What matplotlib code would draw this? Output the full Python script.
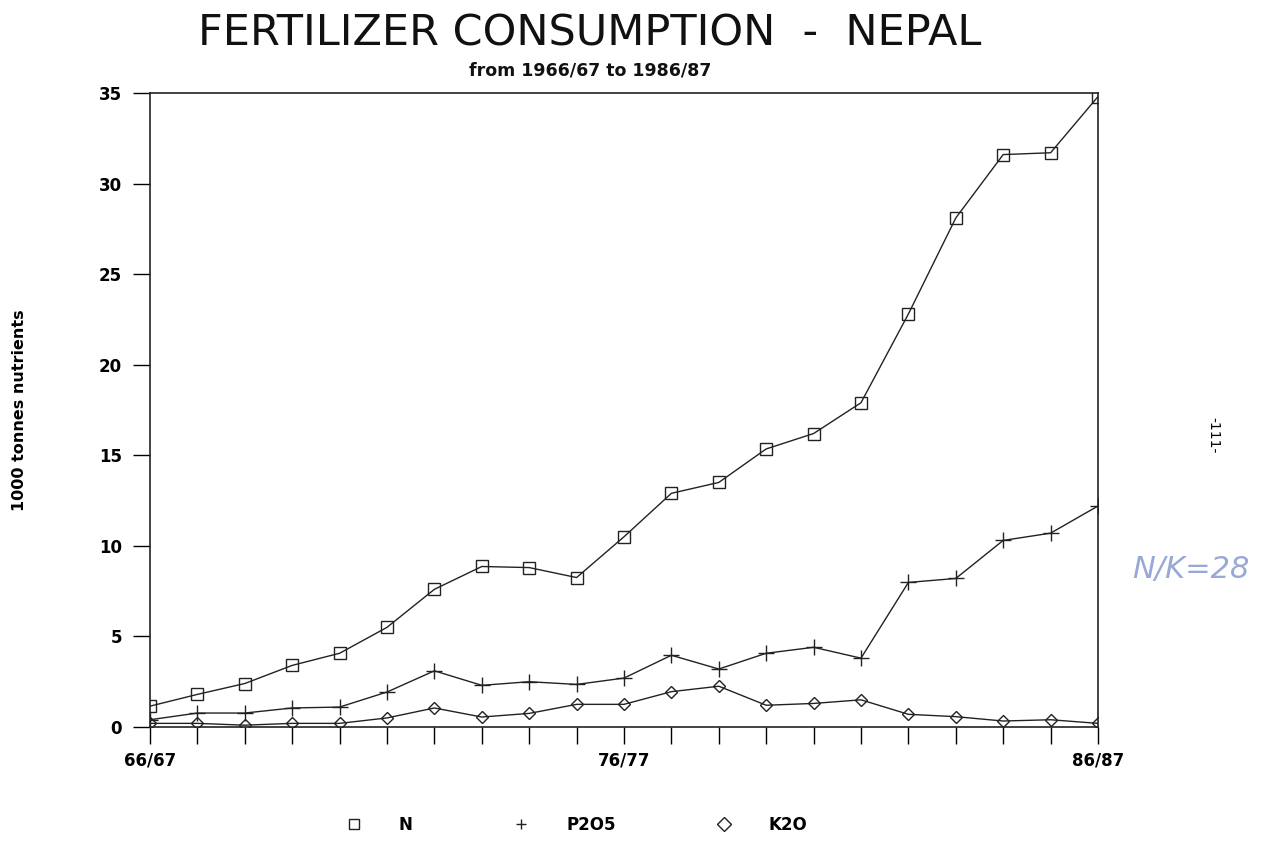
import matplotlib.pyplot as plt
import numpy as np

# === DATA (1000 tonnes nutrients), 1966/67 .. 1986/87 ===
years = ["66/67", "67/68", "68/69", "69/70", "70/71", "71/72", "72/73", "73/74",
         "74/75", "75/76", "76/77", "77/78", "78/79", "79/80", "80/81", "81/82",
         "82/83", "83/84", "84/85", "85/86", "86/87"]
n_vals = [1.15, 1.8, 2.4, 3.4, 4.07, 5.5, 7.6, 8.86, 8.8, 8.25, 10.5,
          12.9, 13.5, 15.35, 16.2, 17.9, 22.8, 28.1, 31.6, 31.7, 34.8]
p2o5_vals = [0.4, 0.77, 0.77, 1.05, 1.1, 1.93, 3.1, 2.3, 2.5, 2.35, 2.7,
             3.96, 3.2, 4.07, 4.4, 3.8, 7.98, 8.2, 10.3, 10.7, 12.2]
k2o_vals = [0.2, 0.2, 0.1, 0.2, 0.2, 0.5, 1.05, 0.55, 0.75, 1.25, 1.25,
            1.95, 2.25, 1.2, 1.3, 1.5, 0.7, 0.57, 0.33, 0.4, 0.2]
label_years = ["66/67", "76/77", "86/87"]

x = np.arange(len(years))

fig = plt.figure(figsize=(12.83, 8.57), dpi=100)
ax = fig.add_axes([0.1169, 0.1517, 0.7389, 0.7398])

ax.plot(x, n_vals, color="#222222", lw=1.0, marker="s", ms=9,
        mfc="none", mec="#222222", mew=1.0, label="N")
ax.plot(x, p2o5_vals, color="#222222", lw=1.0, marker="+", ms=12,
        mew=1.0, label="P2O5")
ax.plot(x, k2o_vals, color="#222222", lw=1.0, marker="D", ms=6.5,
        mfc="none", mec="#222222", mew=1.0, label="K2O")

ax.set_xlim(0, len(years) - 1)
ax.set_ylim(0, 35)
ax.set_yticks(range(0, 36, 5))
ax.set_yticklabels([str(v) for v in range(0, 36, 5)], fontsize=12, fontweight="bold")
ax.set_xticks(x)
ax.set_xticklabels([y if y in label_years else "" for y in years],
                   fontsize=12, fontweight="bold")
ax.tick_params(axis="x", direction="out", length=12, width=1.0, pad=6)
ax.tick_params(axis="y", direction="out", length=12, width=1.0, pad=8)
for s in ax.spines.values():
    s.set_linewidth(1.2)
    s.set_color("#222222")

ax.set_ylabel("1000 tonnes nutrients", fontsize=11.5, fontweight="bold", labelpad=52)

fig.text(0.460, 0.961, "FERTILIZER CONSUMPTION  -  NEPAL", ha="center", va="center",
         fontsize=31, color="#111111")
fig.text(0.460, 0.918, "from 1966/67 to 1986/87", ha="center", va="center",
         fontsize=12.5, fontweight="bold", color="#111111")

ax.legend(loc="center", bbox_to_anchor=(0.45, -0.155), ncol=3, frameon=False,
          handlelength=1.0, handletextpad=2.2, columnspacing=6.0,
          prop={"weight": "bold", "size": 12})
leg = ax.get_legend()
for h in leg.legend_handles:
    h.set_linestyle("none")
    h.set_markersize(7)

# page annotations
fig.text(0.946, 0.492, "-111-", rotation=270, ha="center", va="center", fontsize=10)
fig.text(0.928, 0.335, "N/K=28", ha="center", va="center", fontsize=22,
         color="#9aa8d6", style="italic")

fig.savefig("out.png", dpi=100)
